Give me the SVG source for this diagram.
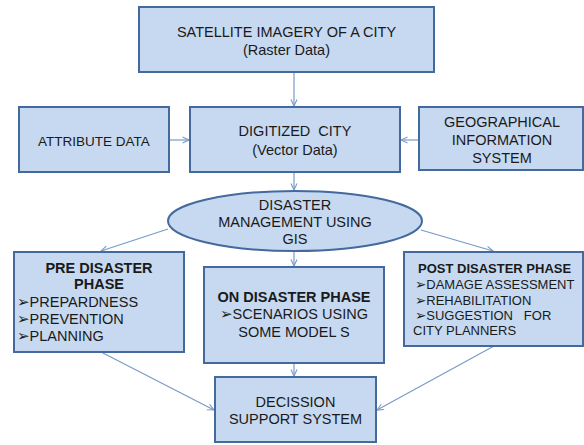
<svg xmlns="http://www.w3.org/2000/svg" width="584" height="445" viewBox="0 0 584 445">
  <style>
    .box { fill: #c6d9f0; stroke: #44699c; stroke-width: 2; }
    .t { font-family: "Liberation Sans", Arial, sans-serif; font-size: 14.5px; fill: #1a1a1a; }
    .c { text-anchor: middle; }
    .b { font-weight: bold; }
    .bul { font-family: "DejaVu Sans", sans-serif; font-size: 15px; }
    .bul-s { font-family: "DejaVu Sans", sans-serif; font-size: 13.5px; }
    .conn line { stroke: #7a9ac6; stroke-width: 1.2; fill: none; marker-end: url(#arr); }
  </style>
  <defs>
    <marker id="arr" viewBox="0 0 8 8" refX="7.5" refY="4" markerWidth="8" markerHeight="8" markerUnits="userSpaceOnUse" orient="auto">
      <path d="M1,1 L7.5,4 L1,7" fill="none" stroke="#7a9ac6" stroke-width="1.1"/>
    </marker>
  </defs>
  <rect width="584" height="445" fill="#ffffff"/>

  <g class="conn" id="connectors">
    <line x1="294" y1="72" x2="294" y2="106"/>
    <line x1="169" y1="140" x2="189" y2="140"/>
    <line x1="419" y1="140" x2="401" y2="140"/>
    <line x1="294" y1="172" x2="294" y2="190"/>
    <line x1="168" y1="229" x2="101" y2="251"/>
    <line x1="294" y1="251" x2="294" y2="266"/>
    <line x1="421" y1="230" x2="493" y2="251"/>
    <line x1="101" y1="352" x2="214" y2="410"/>
    <line x1="494" y1="346" x2="377" y2="410"/>
    <line x1="294" y1="363" x2="294" y2="376"/>
  </g>

  <g id="satellite">
    <rect class="box" x="139" y="7" width="295" height="65"/>
    <text class="t c" x="286.5" y="37">SATELLITE IMAGERY OF A CITY</text>
    <text class="t c" x="286.5" y="55">(Raster Data)</text>
  </g>

  <g id="attribute">
    <rect class="box" x="19" y="107" width="150" height="65"/>
    <text class="t c" x="94" y="146" style="font-size:13.5px">ATTRIBUTE DATA</text>
  </g>

  <g id="digitized">
    <rect class="box" x="190" y="107" width="210" height="65"/>
    <text class="t c" x="295" y="136" xml:space="preserve">DIGITIZED  CITY</text>
    <text class="t c" x="295" y="155">(Vector Data)</text>
  </g>

  <g id="gis">
    <rect class="box" x="419" y="107" width="164" height="63"/>
    <text class="t c" x="502" y="127">GEOGRAPHICAL</text>
    <text class="t c" x="502" y="145">INFORMATION</text>
    <text class="t c" x="502" y="163">SYSTEM</text>
  </g>

  <g id="disaster-management">
    <ellipse class="box" cx="295" cy="221" rx="127" ry="30"/>
    <text class="t c" x="295" y="210">DISASTER</text>
    <text class="t c" x="295" y="227">MANAGEMENT USING</text>
    <text class="t c" x="295" y="244">GIS</text>
  </g>

  <g id="pre-disaster">
    <rect class="box" x="14" y="252" width="170" height="100"/>
    <text class="t c b" x="99" y="273">PRE DISASTER</text>
    <text class="t c b" x="99" y="289">PHASE</text>
    <text class="t" x="17" y="307"><tspan class="bul">➢</tspan>PREPARDNESS</text>
    <text class="t" x="17" y="324"><tspan class="bul">➢</tspan>PREVENTION</text>
    <text class="t" x="17" y="341"><tspan class="bul">➢</tspan>PLANNING</text>
  </g>

  <g id="on-disaster">
    <rect class="box" x="204" y="267" width="180" height="96"/>
    <text class="t c b" x="294" y="302">ON DISASTER PHASE</text>
    <text class="t c" x="294" y="319"><tspan class="bul">➢</tspan>SCENARIOS USING</text>
    <text class="t c" x="294" y="337">SOME MODEL S</text>
  </g>

  <g id="post-disaster">
    <rect class="box" x="404" y="252" width="179" height="94"/>
    <text class="t b" x="418" y="273" style="font-size:13px">POST DISASTER PHASE</text>
    <text class="t" x="415" y="289" style="font-size:13px"><tspan class="bul-s">➢</tspan>DAMAGE ASSESSMENT</text>
    <text class="t" x="415" y="304.5" style="font-size:13px"><tspan class="bul-s">➢</tspan>REHABILITATION</text>
    <text class="t" x="415" y="320" style="font-size:13px" xml:space="preserve"><tspan class="bul-s">➢</tspan>SUGGESTION   FOR</text>
    <text class="t" x="413" y="335" style="font-size:13px">CITY PLANNERS</text>
  </g>

  <g id="decision-support">
    <rect class="box" x="215" y="377" width="161" height="65"/>
    <text class="t c" x="295.5" y="407">DECISSION</text>
    <text class="t c" x="295.5" y="424">SUPPORT SYSTEM</text>
  </g>
</svg>
